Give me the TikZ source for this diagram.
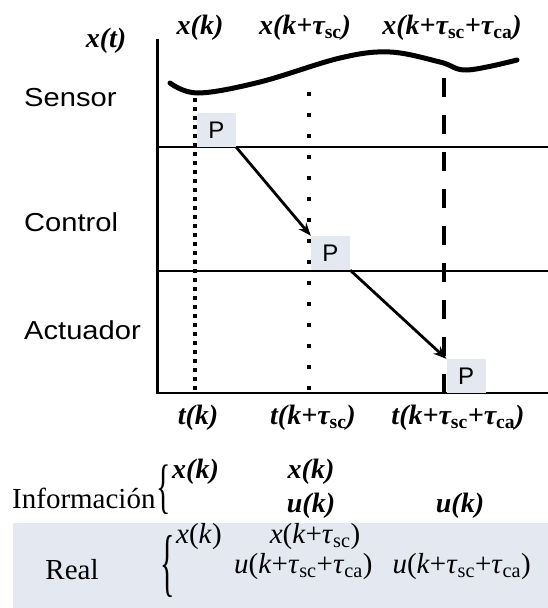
\documentclass[tikz,border=0pt]{standalone}
\usepackage{fontspec}
\setmainfont{Liberation Serif}
\newfontfamily\arialf{Liberation Sans}[FakeStretch=1.12]
\newfontfamily\pfont{Liberation Sans}
\usetikzlibrary{arrows.meta}
\definecolor{pfill}{HTML}{E4E8F1}
\tikzset{
  lab/.style={font=\arialf\fontsize{26}{28}\selectfont, anchor=west, inner sep=0pt},
  pbox/.style={fill=pfill, minimum width=39pt, minimum height=34pt, inner sep=0pt, font=\pfont\fontsize{24}{26}\selectfont},
  bi/.style={font=\fontsize{28}{30}\selectfont\bfseries\itshape, inner sep=0pt},
  rm/.style={font=\fontsize{29}{31}\selectfont, inner sep=0pt},
  brc/.style={font=\fontsize{30}{32}\selectfont, inner sep=0pt},
  arr/.style={-{Stealth[length=13pt,width=10pt]}, line width=2.8pt},
  hline/.style={line width=2.8pt},
  dotA/.style={line width=3.5pt, dash pattern=on 3.5pt off 5.5pt},
  dotB/.style={line width=3.5pt, dash pattern=on 3.5pt off 17.5pt},
  dashC/.style={line width=4.5pt, dash pattern=on 19pt off 18pt},
}
\newcommand\ssub[1]{\textsubscript{\upshape #1}}
\begin{document}
\begin{tikzpicture}[x=1pt,y=-1pt]
\useasboundingbox (0,0) rectangle (548,608);
% lower band
\fill[pfill] (13,523) rectangle (548,608);
% axes and lanes
\coordinate (ax0) at (157,39);
\coordinate (ax1) at (157,393);
\draw[line width=3pt] (ax0) -- (ax1);
\draw[hline] (156,147) -- (548,147);
\draw[hline] (156,271) -- (548,271);
\draw[hline] (156,393) -- (548,393);
% signal curve
\draw[line width=5pt, line cap=round] plot[smooth, tension=0.6] coordinates {(170,83) (198,93) (260,82) (340,58) (390,52) (440,62) (467,70) (517,60)};
% time markers
\draw[dotA] (195,98) -- (195,393);
\draw[dotB] (309,92) -- (309,393);
\draw[dashC] (444,78) -- (444,393);
% packets
\node[pbox] (p1) at (216.5,130) {P};
\node[pbox] (p2) at (330.5,253) {P};
\node[pbox] (p3) at (466,376) {P};
\draw[arr] (p1.south east) -- (p2.north west);
\draw[arr] (p2.south east) -- (p3.north west);
% lane labels
\node[lab] (ls) at (24,98) {Sensor};
\node[lab] (lc) at (24,222) {Control};
\node[lab] (la) at (24,330) {Actuador};
% top labels
\node[bi] (xt) at (106,41) {x(t)};
\node[bi] (x1) at (200,28) {x(k)};
\node[bi] (x2) at (305,28) {x(k+τ\ssub{sc})};
\node[bi] (x3) at (452,28) {x(k+τ\ssub{sc}+τ\ssub{ca})};
% time labels
\node[bi] (t1) at (198,418) {t(k)};
\node[bi] (t2) at (313,418) {t(k+τ\ssub{sc})};
\node[bi] (t3) at (458,418) {t(k+τ\ssub{sc}+τ\ssub{ca})};
% information block
\node[rm, anchor=west] (info) at (12,498) {Información};
\node[brc] (b1) at (164,490) {\scalebox{1}[2.0]{\{}};
\node[bi, anchor=west] (i1) at (172,472) {x(k)};
\node[bi] (i2) at (311,472) {x(k)};
\node[bi] (i3) at (311,506) {u(k)};
\node[bi] (i4) at (460,506) {u(k)};
% real block
\node[rm] (real) at (72,570) {Real};
\node[brc] (b2) at (168,566) {\scalebox{1}[2.5]{\{}};
\node[rm, anchor=west] (r1) at (176,537) {\textit{x}(\textit{k})};
\node[rm] (r2) at (315,537) {\textit{x}(\textit{k}+\textit{τ}\ssub{sc})};
\node[rm, anchor=west] (r3) at (234,567) {\textit{u}(\textit{k}+\textit{τ}\ssub{sc}+\textit{τ}\ssub{ca})};
\node[rm, anchor=east] (r4) at (531,567) {\textit{u}(\textit{k}+\textit{τ}\ssub{sc}+\textit{τ}\ssub{ca})};
\end{tikzpicture}
\end{document}
